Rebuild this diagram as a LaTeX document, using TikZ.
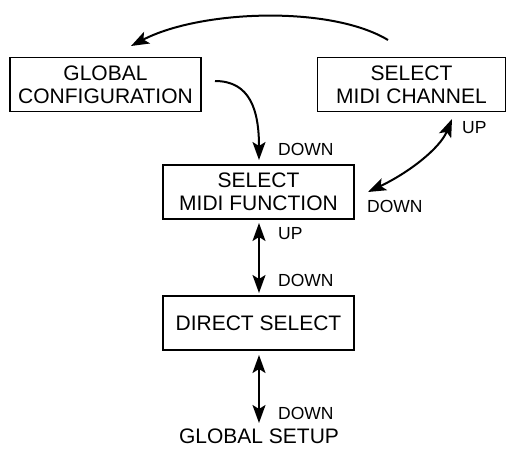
\documentclass[tikz,border=0pt]{standalone}
\usepackage{fontspec}
\setmainfont{Liberation Sans}
\usetikzlibrary{arrows.meta}
\begin{document}
\begin{tikzpicture}[x=1pt,y=-1pt,
  box/.style={draw,line width=1.8pt,minimum width=191pt,minimum height=54pt,inner sep=0pt,align=center,
    font=\fontsize{21}{23}\selectfont},
  lbl/.style={anchor=west,inner sep=0pt,font=\fontsize{17.5}{20}\selectfont},
  conn/.style={line width=2pt,-{Stealth[length=18pt,width=13pt,inset=4pt]}},
  bconn/.style={line width=2pt,{Stealth[length=18pt,width=13pt,inset=4pt]}-{Stealth[length=18pt,width=13pt,inset=4pt]}}]
\useasboundingbox (0,0) rectangle (507,448);
\node[box] (GC) at (105.5,84.5) {GLOBAL\\CONFIGURATION};
\node[box,minimum width=188pt] (MC) at (411.5,84.5) {SELECT\\MIDI CHANNEL};
\node[box] (MF) at (258.5,192) {SELECT\\MIDI FUNCTION};
\node[box] (DS) at (258.5,323) {DIRECT SELECT};
\node[inner sep=0pt,font=\fontsize{21}{23}\selectfont] (GS) at (259,436.5) {GLOBAL SETUP};
% labels
\node[lbl] (l1) at (278,149.5) {DOWN};
\node[lbl] (l2) at (462,127.5) {UP};
\node[lbl] (l3) at (367,206.5) {DOWN};
\node[lbl] (l4) at (278,233.5) {UP};
\node[lbl] (l5) at (278,280) {DOWN};
\node[lbl] (l6) at (278,413) {DOWN};
% connector ends
\coordinate (a1) at (388,40);
\coordinate (a2) at (131,46);
\coordinate (b1) at (215,81);
\coordinate (b2) at (259,160);
\coordinate (c1) at (452,119);
\coordinate (c2) at (368,192);
\coordinate (d1) at (259,223);
\coordinate (d2) at (259,293);
\coordinate (e1) at (259,355);
\coordinate (e2) at (259,423);
\draw[conn] (a1) .. controls (330,5) and (200,10) .. (a2);
\draw[conn] (b1) .. controls (250,81) and (259,110) .. (b2);
\draw[bconn] (c1) .. controls (440,148) and (410,172) .. (c2);
\draw[bconn] (d1) -- (d2);
\draw[bconn] (e1) -- (e2);
\end{tikzpicture}
\end{document}
